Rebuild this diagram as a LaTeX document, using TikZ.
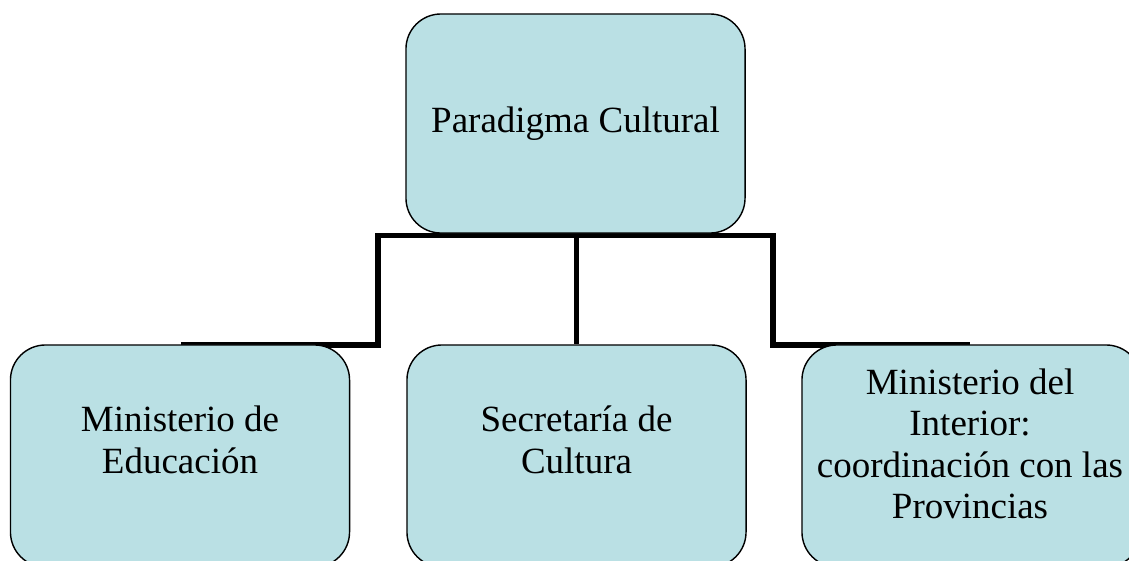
\documentclass[tikz,border=0pt]{standalone}
\usepackage{fontspec}
\setmainfont{Liberation Serif}
\usetikzlibrary{backgrounds}
\definecolor{boxfill}{RGB}{186,224,228}
\begin{document}
\begin{tikzpicture}[x=0.025cm,y=-0.025cm,
    box/.style={draw,line width=1pt,fill=boxfill,rounded corners=0.875cm,
      minimum width=8.475cm,minimum height=5.55cm,inner sep=0pt},
    lbl/.style={align=center,font=\fontsize{26.3}{29.5}\selectfont},
    link/.style={line width=3.9pt}]
  \useasboundingbox (0,0) rectangle (1129,560);
  \clip (0,0) rectangle (1129,560);
  \node[box,lbl,minimum height=5.475cm] (para) at (575.5,123.5) {Paradigma Cultural};
  \node[box] (edu) at (180,456) {};
  \node[box] (cul) at (576.5,456) {};
  \node[box] (int) at (971.5,456) {};
  \node[lbl] (eduT) at (180,440) {Ministerio de\\Educación};
  \node[lbl] (culT) at (576.5,440) {Secretaría de\\Cultura};
  \node[lbl] (intT) at (970,444) {Ministerio del\\Interior:\\coordinación con las\\Provincias};
  \coordinate (jl) at (378,235.5);
  \coordinate (jr) at (773,235.5);
  \coordinate (el) at (181,345);
  \coordinate (ir) at (970,345);
  \begin{scope}[on background layer]
    \draw[link] (el) -| (jl) -- (jr) |- (ir);
    \draw[link] (cul.north |- jl) -- (cul.north);
  \end{scope}
\end{tikzpicture}
\end{document}
